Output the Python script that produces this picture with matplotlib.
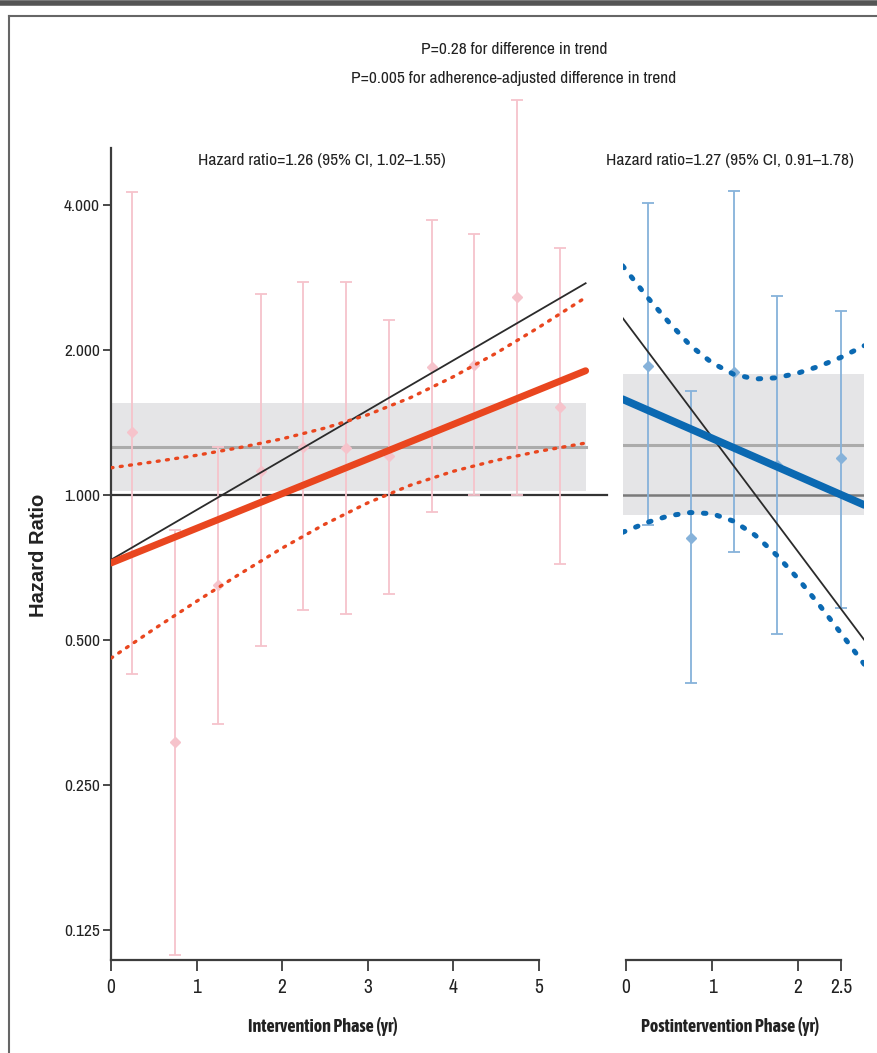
import numpy as np
import matplotlib
matplotlib.use("Agg")
import matplotlib.pyplot as plt
from matplotlib import font_manager

# ---- data: intervention phase (left panel) ----
int_x = [0.25, 0.75, 1.25, 1.75, 2.25, 2.75, 3.25, 3.75, 4.25, 4.75, 5.25]
int_hr = [1.35, 0.307, 0.65, 1.12, 1.26, 1.25, 1.205, 1.84, 1.86, 2.58, 1.52]
int_lo = [0.425, 0.111, 0.335, 0.486, 0.577, 0.566, 0.623, 0.922, 1.0, 1.0, 0.719]
int_hi = [4.26, 0.846, 1.26, 2.61, 2.77, 2.77, 2.31, 3.72, 3.48, 6.6, 3.26]

int_fit_x = [0.0, 5.55]
int_fit_hr = [0.722, 1.81]
int_adj_hr = [0.733, 2.75]
int_band_x = [0.0, 0.5, 1.0, 1.5, 2.0, 2.5, 3.0, 3.5, 4.0, 4.5, 5.0, 5.55]
int_band_hi = [1.138, 1.171, 1.208, 1.253, 1.307, 1.376, 1.466, 1.591, 1.758, 1.967, 2.226, 2.569]
int_band_lo = [0.458, 0.526, 0.601, 0.684, 0.775, 0.869, 0.962, 1.047, 1.119, 1.179, 1.231, 1.281]
int_summary = (1.26, 1.02, 1.55)

# ---- data: postintervention phase (right panel) ----
post_x = [0.25, 0.75, 1.25, 1.75, 2.5]
post_hr = [1.85, 0.814, 1.80, 1.154, 1.19]
post_lo = [0.866, 0.407, 0.762, 0.515, 0.582]
post_hi = [4.04, 1.64, 4.28, 2.59, 2.41]

post_fit_x = [-0.04, 2.77]
post_fit_hr = [1.58, 0.953]
post_adj_hr = [2.33, 0.50]
post_band_x = [-0.04, 0.25, 0.5, 0.75, 1.0, 1.25, 1.5, 1.75, 2.0, 2.25, 2.5, 2.77]
post_band_hi = [2.99, 2.57, 2.28, 2.04, 1.88, 1.78, 1.74, 1.75, 1.79, 1.85, 1.93, 2.04]
post_band_lo = [0.836, 0.877, 0.905, 0.919, 0.914, 0.882, 0.825, 0.750, 0.670, 0.590, 0.516, 0.445]
post_summary = (1.27, 0.91, 1.78)

y_ticks = [0.125, 0.25, 0.5, 1.0, 2.0, 4.0]
y_ticklabels = ["0.125", "0.250", "0.500", "1.000", "2.000", "4.000"]


def weight_num(w):
    if isinstance(w, str):
        return font_manager.weight_dict.get(w, 400)
    return w


# pick a narrow face if one is around (prefer one that also ships a bold cut)
fonts = font_manager.fontManager.ttflist
narrow_faces = sorted({f.name for f in fonts if "Narrow" in f.name or "Condensed" in f.name})
bold_narrow = sorted({f.name for f in fonts if f.name in narrow_faces and weight_num(f.weight) >= 600})
narrow = narrow_faces[0] if narrow_faces else "Liberation Sans"
narrow_bold = bold_narrow[0] if bold_narrow else narrow
fs_small = 12.5 if narrow_faces else 10.5
fs_label = 13 if narrow_faces else 11.5
fs_tick = 14 if narrow_faces else 12
fs_ytick = 12.5 if narrow_faces else 11

RED = "#e9461f"
BLUE = "#0b69b2"
PINK = "#f6c3cb"
LBLUE = "#86b2da"
SPINE = "#3c3c3c"

W, H = 877, 1053
fig = plt.figure(figsize=(W / 100, H / 100), dpi=100)

y_top, y_bot = 148, 960
ylim = (0.1082, 5.25)


def px_axes(x0, x1):
    return fig.add_axes([x0 / W, 1 - y_bot / H, (x1 - x0) / W, (y_bot - y_top) / H])


def style_axes(ax, xticks, xlabels, bounds):
    ax.set_yscale("log", base=2)
    ax.set_ylim(*ylim)
    ax.yaxis.set_minor_locator(matplotlib.ticker.NullLocator())
    for s in ("top", "right"):
        ax.spines[s].set_visible(False)
    ax.spines["bottom"].set_bounds(*bounds)
    ax.spines["bottom"].set_color(SPINE)
    ax.spines["bottom"].set_linewidth(1.6)
    ax.spines["left"].set_color(SPINE)
    ax.spines["left"].set_linewidth(1.6)
    ax.set_xticks(xticks)
    ax.set_xticklabels(xlabels, family=narrow, fontsize=fs_tick, color="#222")
    ax.tick_params(axis="x", length=8, width=1.3, color=SPINE, pad=5)
    ax.patch.set_alpha(0)


def draw_errbars(ax, x, hr, lo, hi, color):
    yerr = [np.array(hr) - np.array(lo), np.array(hi) - np.array(hr)]
    eb = ax.errorbar(x, hr, yerr=yerr, fmt="D", ms=5, color=color, ecolor=color,
                     elinewidth=1.3, capsize=4, capthick=1.3, zorder=3)
    for art in [eb.lines[0], *eb.lines[1], *eb.lines[2]]:
        art.set_clip_on(False)


# left panel
ax1 = px_axes(111, 607)
ax1.set_xlim(0, 5.8)
style_axes(ax1, [0, 1, 2, 3, 4, 5], ["0", "1", "2", "3", "4", "5"], (0, 5))
ax1.set_yticks(y_ticks)
ax1.set_yticklabels(y_ticklabels, family=narrow, fontsize=fs_ytick, color="#222")
ax1.tick_params(axis="y", length=6, width=1.3, color=SPINE, pad=2)

hr, lo, hi = int_summary
ax1.fill_between([0, 5.56], lo, hi, color="#e5e5e7", lw=0, zorder=0)
ax1.plot([0, 5.56], [hr, hr], color="#ababab", lw=2.2, zorder=1)
ax1.plot([0, 5.8], [1, 1], color="#333333", lw=1.6, zorder=1, clip_on=False)
draw_errbars(ax1, int_x, int_hr, int_lo, int_hi, PINK)
ax1.plot(int_fit_x, int_adj_hr, color="#2b2b2b", lw=1.3, zorder=4)
ax1.plot(int_band_x, int_band_hi, color=RED, lw=2.4, ls=(0, (0.6, 2.2)),
         dash_capstyle="round", zorder=4)
ax1.plot(int_band_x, int_band_lo, color=RED, lw=2.4, ls=(0, (0.6, 2.2)),
         dash_capstyle="round", zorder=4)
ax1.plot(int_fit_x, int_fit_hr, color=RED, lw=5, solid_capstyle="round", zorder=5)

# right panel
ax2 = px_axes(622.6, 864.2)
ax2.set_xlim(-0.04, 2.77)
style_axes(ax2, [0, 1, 2, 2.5], ["0", "1", "2", "2.5"], (0, 2.5))
ax2.spines["left"].set_visible(False)
ax2.set_yticks([])

hr, lo, hi = post_summary
ax2.fill_between([-0.04, 2.77], lo, hi, color="#e5e5e7", lw=0, zorder=0)
ax2.plot([-0.04, 2.77], [hr, hr], color="#ababab", lw=2.2, zorder=1)
ax2.plot([-0.04, 2.77], [1, 1], color="#7a7a7a", lw=1.8, zorder=1)
draw_errbars(ax2, post_x, post_hr, post_lo, post_hi, LBLUE)
ax2.plot(post_fit_x, post_adj_hr, color="#2b2b2b", lw=1.3, zorder=4)
ax2.plot(post_band_x, post_band_hi, color=BLUE, lw=3.6, ls=(0, (0.5, 2.3)),
         dash_capstyle="round", zorder=4)
ax2.plot(post_band_x, post_band_lo, color=BLUE, lw=3.6, ls=(0, (0.5, 2.3)),
         dash_capstyle="round", zorder=4)
ax2.plot(post_fit_x, post_fit_hr, color=BLUE, lw=5.5, solid_capstyle="round", zorder=5)

# annotations
txt = dict(family=narrow, fontsize=fs_small, color="#222", ha="center", va="center")
fig.text(514 / W, 1 - 50 / H, "P=0.28 for difference in trend", **txt)
fig.text(514 / W, 1 - 78 / H, "P=0.005 for adherence-adjusted difference in trend", **txt)
fig.text(322 / W, 1 - 160 / H, "Hazard ratio=1.26 (95% CI, 1.02\u20131.55)", **txt)
fig.text(730 / W, 1 - 160 / H, "Hazard ratio=1.27 (95% CI, 0.91\u20131.78)", **txt)
bold_txt = dict(family=narrow_bold, fontsize=fs_label, fontweight="bold", color="#222",
                ha="center", va="center")
fig.text(323 / W, 1 - 1027 / H, "Intervention Phase (yr)", **bold_txt)
fig.text(730 / W, 1 - 1027 / H, "Postintervention Phase (yr)", **bold_txt)
fig.text(38 / W, 1 - 555 / H, "Hazard Ratio", rotation=90, fontweight="bold",
         family="Liberation Sans", fontsize=14.5, color="#222", ha="center", va="center")

# page frame
fig.add_artist(plt.Line2D([0, 1], [1 - 3 / H, 1 - 3 / H], color="#555", lw=4))
fig.add_artist(plt.Line2D([9 / W, 1], [1 - 16 / H, 1 - 16 / H], color="#666", lw=1.5))
fig.add_artist(plt.Line2D([9 / W, 9 / W], [0, 1 - 16 / H], color="#666", lw=1.5))

fig.savefig("out.png", dpi=100)
